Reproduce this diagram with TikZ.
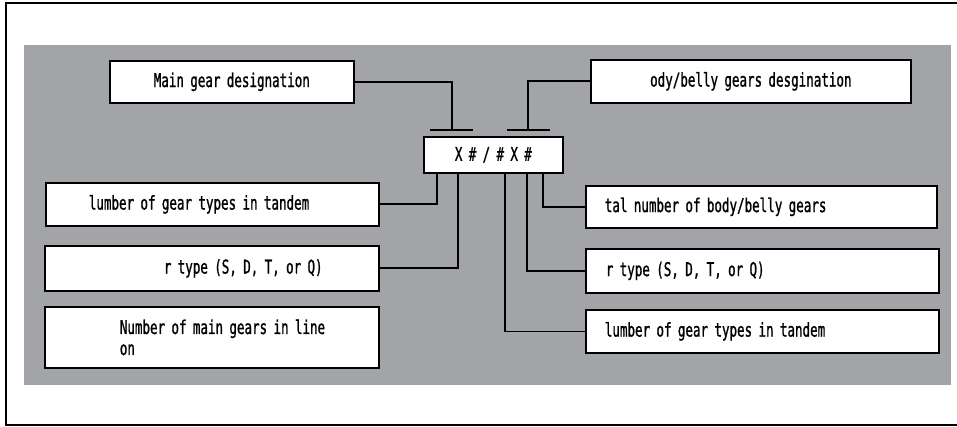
\documentclass[tikz,border=0pt]{standalone}
\usepackage{fontspec}
\newfontfamily\gothicfont[FakeStretch=0.66,FakeBold=1]{DejaVu Sans Mono}
\usetikzlibrary{positioning}
\definecolor{panelgray}{RGB}{163,164,168}
\tikzset{tag box/.style={draw, fill=white, line width=1.7pt, anchor=north west, inner xsep=0pt, inner ysep=0pt, align=left, font=\gothicfont\fontsize{19}{21}\selectfont},}

\begin{document}
\begin{tikzpicture}[x=1pt, y=-1pt, line width=1.7pt]
        \useasboundingbox (0,0) rectangle (957,427);
        % Frame and panel
        \draw (957,3) -- (6,3) -- (6,425) -- (957,425);
        \fill[panelgray] (24,45) rectangle (951,385);
        % Nodes
        \node[tag box, text width=244pt, minimum height=42pt, align=center] (main) at (109,60) {Main gear designation};
        \node[tag box, text width=320pt, minimum height=43pt, align=center] (body) at (590,59) {ody/belly gears desgination};
        \node[tag box, text width=139pt, minimum height=36pt, align=center] (code) at (423,136) {X \# / \# X \#};
        \node[tag box, text width=333pt, minimum height=43pt] (ltandem) at (45,182) {\hspace*{43pt}lumber of gear types in tandem};
        \node[tag box, text width=334pt, minimum height=45pt] (ltype) at (44,245) {\hspace*{119pt}r type (S, D, T, or Q)};
        \node[tag box, text width=334pt, minimum height=61pt] (lcount) at (44,306) {\hspace*{75pt}Number of main gears in line\\\hspace*{75pt}on};
        \node[tag box, text width=351pt, minimum height=42pt] (rtotal) at (585,185) {\hspace*{19pt}tal number of body/belly gears};
        \node[tag box, text width=353pt, minimum height=44pt] (rtype) at (585,248) {\hspace*{20pt}r type (S, D, T, or Q)};
        \node[tag box, text width=353pt, minimum height=43pt] (rtandem) at (585,309) {\hspace*{19pt}lumber of gear types in tandem};
        \coordinate (mtee) at (452,130);
        \coordinate (btee) at (528,130);
        % Paths
        \draw (main.east) -| (mtee);
        \draw (body.west) -| (btee);
        \draw ([xshift=-22pt]mtee) -- ([xshift=21pt]mtee);
        \draw ([xshift=-21pt]btee) -- ([xshift=22pt]btee);
        \draw (ltandem.east) -| ([xshift=-56.5pt]code.south);
        \draw (ltype.east) -| ([xshift=-35.5pt]code.south);
        \draw (rtandem.west) -| ([xshift=11.5pt]code.south);
        \draw (rtype.west) -| ([xshift=33.5pt]code.south);
        \draw (rtotal.west) -| ([xshift=49.5pt]code.south);
    \end{tikzpicture}
\end{document}
